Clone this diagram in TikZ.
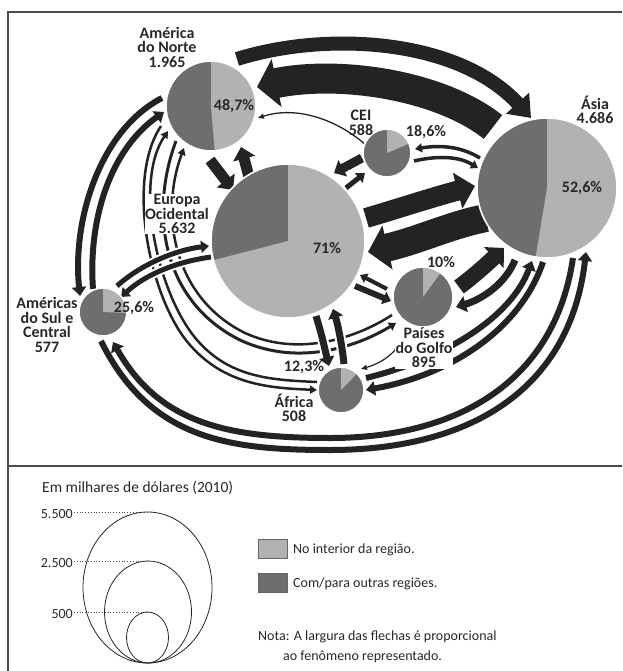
\documentclass[tikz,border=0pt]{standalone}
\usepackage{fontspec}
\setmainfont{Carlito}
\usetikzlibrary{arrows.meta}
\definecolor{lightg}{RGB}{178,178,178}
\definecolor{darkg}{RGB}{110,110,110}
\definecolor{arr}{RGB}{35,35,35}
\definecolor{txt}{RGB}{40,40,40}
\newcommand\mypie[5]{%
  \fill[darkg] (#2,#3) circle[radius=#4];
  \fill[lightg] (#2,#3) -- ++(-90:#4) arc[start angle=-90, end angle={-90+3.6*#5}, radius=#4] -- cycle;
  \draw[white, line width=1.6pt] (#2,#3) circle[radius=#4];
  \coordinate (#1) at (#2,#3);
}
\tikzset{
  fl/.style n args={3}{draw=arr, line width=#1pt, -{Triangle[length=#2pt,width=#3pt]}},
  halo/.style={preaction={draw=white, line width=#1pt}},
  lab/.style={font=\bfseries\fontsize{16}{14.5}\selectfont, text=txt, align=center, inner sep=0.5pt},
  pct/.style={font=\bfseries\fontsize{16}{16}\selectfont, text=txt, inner sep=0pt},
  leg/.style={font=\fontsize{14}{16}\selectfont, text=txt, inner sep=0pt},
  frame/.style={draw=black!70, line width=1.2pt},
}
\begin{document}
\begin{tikzpicture}[x=1pt,y=-1pt]
\useasboundingbox (0,0) rectangle (622,671);
% frame
\draw[frame] (8,671) -- (8,12) -- (622,12);
\draw[frame] (8,466) -- (622,466);

% long thin arcs AN <-> Africa, AN <-> Golfo
\draw[fl={2.5}{7}{8}] (161,126) .. controls (125,180) and (150,300) .. (190,345) .. controls (225,385) and (270,388) .. (317,390);
\draw[fl={2.5}{7}{8}] (317,382) .. controls (272,380) and (230,378) .. (197,340) .. controls (158,295) and (133,183) .. (168,131);
\draw[fl={3}{7}{9}] (176,141) .. controls (150,210) and (160,300) .. (240,340) .. controls (300,368) and (360,345) .. (396,323);
\draw[fl={2.5}{7}{8}] (392,315) .. controls (358,337) and (300,358) .. (245,333) .. controls (172,297) and (160,212) .. (184,148);

% outer arcs Asia <-> Americas do Sul
\draw[fl={6}{9}{14}] (101,341) .. controls (150,440) and (230,450) .. (330,450) .. controls (470,450) and (570,390) .. (586,252);
\draw[fl={6}{9}{14}] (573,258) .. controls (555,380) and (460,438) .. (330,438) .. controls (230,438) and (160,425) .. (113,342);

% AN <-> Americas do Sul
\draw[fl={6}{9}{14}] (162,98) .. controls (100,130) and (72,220) .. (80,296);
\draw[fl={6}{9}{14}] (93,289) .. controls (88,220) and (110,150) .. (164,112);

% Americas do Sul <-> Europa
\draw[halo=9, fl={5}{8}{12}] (117,286) .. controls (140,265) and (175,250) .. (209,246);
\draw[halo=9, fl={5}{8}{12}] (211,257) .. controls (175,262) and (145,275) .. (121,297);

% top arcs AN <-> Asia
\draw[fl={14}{20}{30}] (237,59) .. controls (330,30) and (460,40) .. (531,118);
\draw[fl={30}{20}{48}] (493,127) .. controls (440,85) and (340,70) .. (257,87);
\draw[fl={1.3}{6}{5}] (366,145) .. controls (335,118) and (295,106) .. (258,118);

% AN <-> Europa
\draw[fl={11}{12}{22}] (210,160) -- (233,190);
\draw[fl={11}{12}{22}] (249,177) -- (241,147);

% CEI <-> Europa, CEI <-> Asia
\draw[fl={9}{10}{18}] (362,158) -- (334,173);
\draw[fl={5}{8}{12}] (346,188) -- (365,173);
\draw[fl={3.5}{7}{9}] (480,158) .. controls (460,146) and (440,145) .. (415,149);
\draw[fl={3.5}{7}{9}] (414,161) .. controls (440,155) and (460,157) .. (478,168);

% Europa <-> Asia
\draw[fl={20}{18}{36}] (366,218) .. controls (400,208) and (430,198) .. (475,186);
\draw[fl={28}{20}{44}] (486,218) .. controls (450,225) and (420,240) .. (368,252);

% Golfo <-> Asia
\draw[fl={16}{14}{28}] (459,287) .. controls (475,275) and (488,263) .. (504,248);
\draw[fl={7}{10}{16}] (515,260) .. controls (505,285) and (480,300) .. (456,307);

% Golfo <-> Europa
\draw[fl={4}{7}{10}] (387,289) -- (360,275);
\draw[fl={6}{8}{13}] (355,286) -- (391,301);

% Europa <-> Africa
\draw[halo=11, fl={7}{9}{15}] (316,316) .. controls (322,335) and (325,350) .. (329,366);
\draw[halo=11, fl={7}{9}{15}] (344,364) .. controls (342,345) and (338,325) .. (333,309);

% Golfo -> Africa
\draw[fl={1.2}{6}{5}] (408,328) .. controls (400,350) and (385,362) .. (361,369);

% Africa <-> Asia
\draw[fl={6}{9}{14}] (366,378) .. controls (440,360) and (510,320) .. (532,261);
\draw[fl={6}{9}{14}] (543,262) .. controls (520,330) and (450,375) .. (366,390);

% pies
\mypie{AN}{211}{106}{45}{48.7}
\mypie{EO}{288}{241}{77}{71}
\mypie{CEI}{387}{153}{24}{18.6}
\mypie{AS}{547}{188}{70}{52.6}
\mypie{GO}{423}{297}{30}{10}
\mypie{AF}{341}{390}{23}{12.3}
\mypie{SC}{103}{312}{24}{25.6}

% labels
\node[lab] (lAN) at (167,47) {América\\do Norte\\1.965};
\node[lab, fill=white] (lEO) at (177,214) {Europa\\Ocidental\\5.632};
\node[lab] (lCEI) at (361,123) {CEI\\588};
\node[lab] (lAS) at (595,110) {Ásia\\4.686};
\node[lab, fill=white] (lGO) at (424,348) {Países\\do Golfo\\895};
\node[lab] (lAF) at (294,408) {África\\508};
\node[lab] (lSC) at (47,325) {Américas\\do Sul e\\Central\\577};

\node[pct] (pAN) at (234,106) {48,7\%};
\node[pct] (pEO) at (327,248) {71\%};
\node[pct] (pCEI) at (426,132) {18,6\%};
\node[pct] (pAS) at (582,188) {52,6\%};
\node[pct] (pGO) at (441,262) {10\%};
\node[pct] (pAF) at (304,367) {12,3\%};
\node[pct] (pSC) at (134,308) {25,6\%};

% legend
\node[leg, font=\fontsize{15.5}{17}\selectfont, anchor=base west] (title) at (42,492) {Em milhares de dólares (2010)};
\draw[line width=0.8pt, draw=black!85] (147.5,587.5) ellipse[x radius=64.5, y radius=75.5];
\draw[line width=0.8pt, draw=black!85] (148,612) ellipse[x radius=43.5, y radius=51];
\draw[line width=0.8pt, draw=black!85] (147.5,637.5) ellipse[x radius=21, y radius=25.5];
\draw[dotted, line width=0.8pt, draw=black!70] (74,512) -- (147.5,512);
\draw[dotted, line width=0.8pt, draw=black!70] (74,561) -- (148,561);
\draw[dotted, line width=0.8pt, draw=black!70] (74,612) -- (147.5,612);
\node[leg, anchor=east] (v1) at (73,514) {5.500};
\node[leg, anchor=east] (v2) at (73,563) {2.500};
\node[leg, anchor=east] (v3) at (73,614) {500};

\draw[fill=lightg, draw=black!60, line width=0.8pt] (258,539) rectangle (287,558);
\draw[fill=darkg, draw=black!60, line width=0.8pt] (258,573) rectangle (287,592);
\node[leg, anchor=base west] (k1) at (293,553) {No interior da região.};
\node[leg, anchor=base west] (k2) at (293,587) {Com/para outras regiões.};
\node[leg, anchor=base west] (n1) at (258,640) {Nota: A largura das flechas é proporcional};
\node[leg, anchor=base west] (n2) at (283,660) {ao fenômeno representado.};
\end{tikzpicture}
\end{document}
